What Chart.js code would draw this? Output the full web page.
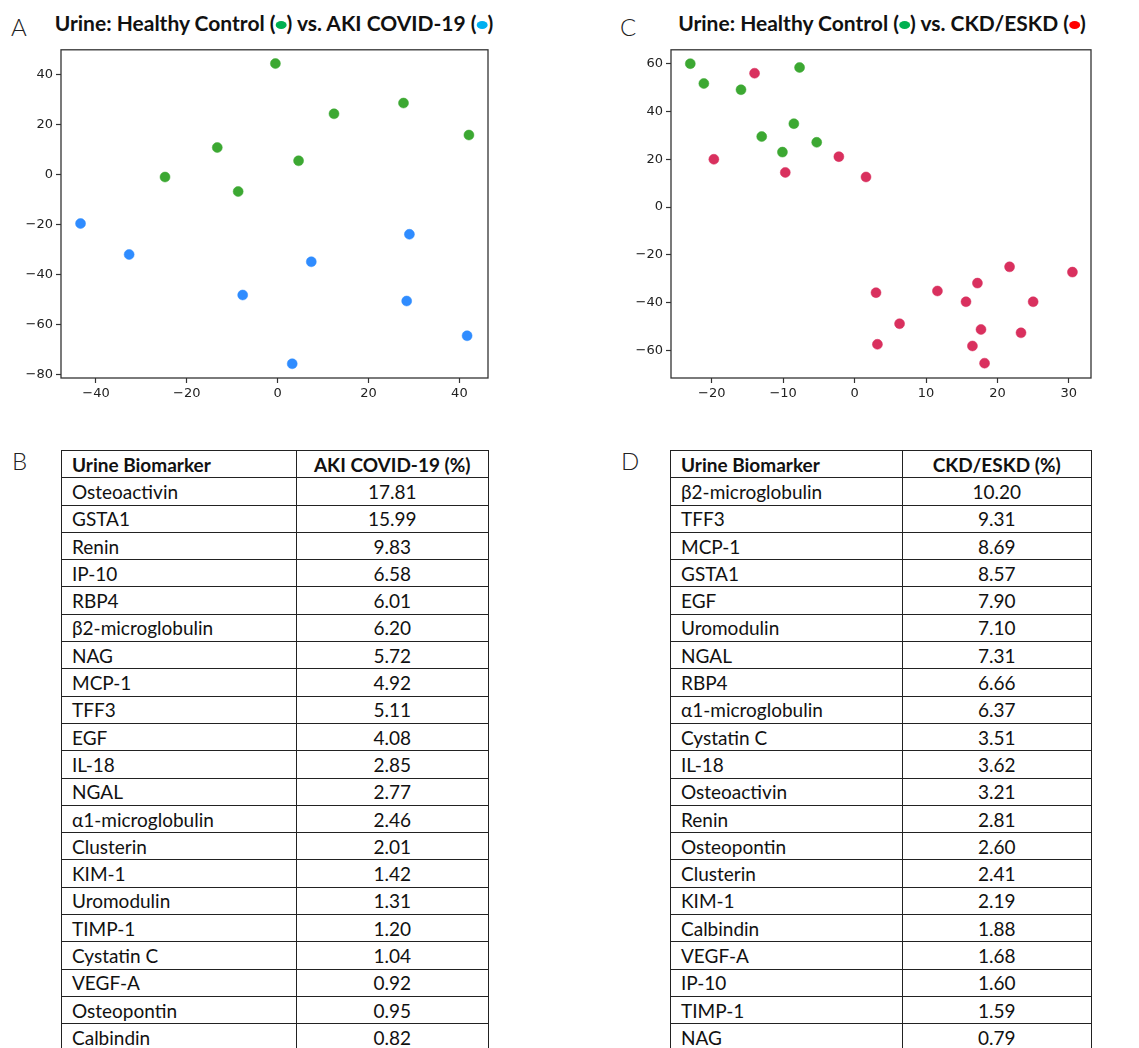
<!DOCTYPE html>
<html>
<head>
<meta charset="utf-8">
<script src="https://cdn.jsdelivr.net/npm/chart.js@4.4.1/dist/chart.umd.min.js"></script>
<style>
  body { margin: 0; background: #fff; width: 1139px; height: 1048px; overflow: hidden; position: relative; font-family: Lato, "Open Sans", sans-serif; }
  .panel { position: absolute; font-family: Lato, sans-serif; font-size: 24px; font-weight: 300; color: #222; }
  .title { position: absolute; font-family: Lato, sans-serif; font-weight: bold; font-size: 21px; color: #111; white-space: nowrap; transform: translateX(-50%); }
  .dot { display: inline-block; width: 11px; height: 8px; border-radius: 50%; vertical-align: middle; position: relative; top: -1px; }
  .box { position: absolute; }
  table { position: absolute; border-collapse: collapse; font-family: Lato, sans-serif; font-size: 19px; color: #111; table-layout: fixed; }
  td { border: 1.5px solid #222; height: 25.8px; padding: 0 10px; line-height: 25px; white-space: nowrap; }
  tr { height: 27.3px; }
  td.v { text-align: center; }
  tr.h td { font-weight: bold; }
</style>
</head>
<body>
<div class="panel" style="left:11px;top:12px;">A</div>
<div class="panel" style="left:12px;top:446px;">B</div>
<div class="panel" style="left:620px;top:12px;">C</div>
<div class="panel" style="left:621px;top:446px;">D</div>

<div class="title" style="left:274px;top:10px;">Urine: Healthy Control (<span class="dot" style="background:#00b050"></span>) vs. AKI COVID-19 (<span class="dot" style="background:#00b0f0"></span>)</div>
<div class="title" style="left:882px;top:10px;">Urine: Healthy Control (<span class="dot" style="background:#00b050"></span>) vs. CKD/ESKD (<span class="dot" style="background:#ff0000"></span>)</div>

<div class="box" style="left:0px;top:39px;width:500px;height:369px;"><canvas id="chartA"></canvas></div>
<div class="box" style="left:610px;top:39px;width:493px;height:369px;"><canvas id="chartC"></canvas></div>

<table id="tableB" style="left:61px;top:450px;width:428px;"></table>
<table id="tableD" style="left:670px;top:450px;width:422px;"></table>

<script>
// panel A: t-SNE style embedding, healthy vs AKI COVID-19
var healthyAX = [-0.5, 12.4, 27.7, 42.1, -13.3, 4.6, -24.8, -8.7];
var healthyAY = [44.3, 24.2, 28.5, 15.7, 10.7, 5.4, -1.1, -6.9];
var akiX = [-43.4, -32.7, 29.0, 7.4, -7.7, 28.4, 41.7, 3.2];
var akiY = [-19.7, -32.1, -24.0, -35.0, -48.3, -50.7, -64.6, -75.8];
var xTicksA = [-40, -20, 0, 20, 40];
var yTicksA = [-80, -60, -40, -20, 0, 20, 40];

// panel C: healthy vs CKD/ESKD
var healthyCX = [-23.0, -21.1, -15.9, -7.7, -8.5, -13.0, -5.3, -10.1];
var healthyCY = [60.0, 51.7, 49.1, 58.4, 34.9, 29.5, 27.1, 23.0];
var ckdX = [-14.0, -19.7, -9.7, -2.2, 1.6, 21.7, 30.5, 17.2, 3.0, 11.6, 15.6, 25.0, 6.3, 17.7, 23.3, 3.2, 16.5, 18.2];
var ckdY = [56.0, 20.0, 14.5, 21.1, 12.6, -25.0, -27.2, -31.8, -35.8, -35.1, -39.6, -39.6, -48.8, -51.2, -52.6, -57.4, -58.1, -65.3];
var xTicksC = [-20, -10, 0, 10, 20, 30];
var yTicksC = [-60, -40, -20, 0, 20, 40, 60];

// tables B and D
var markersB = ['Osteoactivin', 'GSTA1', 'Renin', 'IP-10', 'RBP4', '\u03b22-microglobulin', 'NAG', 'MCP-1', 'TFF3', 'EGF', 'IL-18', 'NGAL', '\u03b11-microglobulin', 'Clusterin', 'KIM-1', 'Uromodulin', 'TIMP-1', 'Cystatin C', 'VEGF-A', 'Osteopontin', 'Calbindin'];
var pctB = ['17.81', '15.99', '9.83', '6.58', '6.01', '6.20', '5.72', '4.92', '5.11', '4.08', '2.85', '2.77', '2.46', '2.01', '1.42', '1.31', '1.20', '1.04', '0.92', '0.95', '0.82'];
var markersD = ['\u03b22-microglobulin', 'TFF3', 'MCP-1', 'GSTA1', 'EGF', 'Uromodulin', 'NGAL', 'RBP4', '\u03b11-microglobulin', 'Cystatin C', 'IL-18', 'Osteoactivin', 'Renin', 'Osteopontin', 'Clusterin', 'KIM-1', 'Calbindin', 'VEGF-A', 'IP-10', 'TIMP-1', 'NAG'];
var pctD = ['10.20', '9.31', '8.69', '8.57', '7.90', '7.10', '7.31', '6.66', '6.37', '3.51', '3.62', '3.21', '2.81', '2.60', '2.41', '2.19', '1.88', '1.68', '1.60', '1.59', '0.79'];

var GREEN = '#3ca832', BLUE = '#2f8cff', CRIMSON = '#d9305e';

function pts(xs, ys) {
  var out = [];
  for (var i in xs) out.push({x: xs[i], y: ys[i]});
  return out;
}

// draws the closed matplotlib-like frame round the plot area
var framePlugin = {
  id: 'frame',
  afterDraw: function(chart) {
    var a = chart.chartArea, ctx = chart.ctx;
    ctx.save();
    ctx.strokeStyle = '#333';
    ctx.lineWidth = 1.3;
    ctx.strokeRect(a.left, a.top, a.right - a.left, a.bottom - a.top);
    ctx.restore();
  }
};

function axis(min, max, ticks, pos, fit) {
  return {
    type: 'linear', position: pos, min: min, max: max,
    afterBuildTicks: function(scale) { scale.ticks = ticks.map(function(v) { return {value: v}; }); },
    afterFit: fit,
    border: {display: false},
    grid: {drawOnChartArea: false, drawTicks: true, tickLength: 5, tickColor: '#333', tickWidth: 1.2},
    ticks: {
      color: '#222', padding: 3,
      font: {family: 'DejaVu Sans', size: 13},
      callback: function(v) { return String(v).replace('-', '\u2212'); }
    }
  };
}

function scatter(id, sets, xr, yr, xt, yt) {
  return new Chart(document.getElementById(id), {
    type: 'scatter',
    data: {datasets: sets.map(function(s) {
      return {data: s.data, backgroundColor: s.color, borderColor: s.color, pointRadius: 5, pointBorderWidth: 0.5, pointHoverRadius: 5};
    })},
    options: {
      responsive: true, maintainAspectRatio: false, animation: false,
      layout: {padding: {top: 0, right: 12, left: 0, bottom: 0}},
      plugins: {legend: {display: false}, tooltip: {enabled: false}},
      scales: {
        x: axis(xr[0], xr[1], xt, 'bottom', function(s) { s.height = 30; }),
        y: axis(yr[0], yr[1], yt, 'left', function(s) { s.width = 61; })
      }
    },
    plugins: [framePlugin]
  });
}

scatter('chartA', [
  {data: pts(healthyAX, healthyAY), color: GREEN},
  {data: pts(akiX, akiY), color: BLUE}
], [-47.7, 46.3], [-81.5, 49.8], xTicksA, yTicksA);

scatter('chartC', [
  {data: pts(healthyCX, healthyCY), color: GREEN},
  {data: pts(ckdX, ckdY), color: CRIMSON}
], [-25.7, 33.1], [-71.5, 65.8], xTicksC, yTicksC);

function fillTable(id, head, names, vals) {
  var t = document.getElementById(id);
  var html = '<tr class="h"><td style="width:50%">Urine Biomarker</td><td class="v">' + head + '</td></tr>';
  for (var i in names) html += '<tr><td>' + names[i] + '</td><td class="v">' + vals[i] + '</td></tr>';
  t.innerHTML = html;
}
fillTable('tableB', 'AKI COVID-19 (%)', markersB, pctB);
fillTable('tableD', 'CKD/ESKD (%)', markersD, pctD);
</script>
</body>
</html>
